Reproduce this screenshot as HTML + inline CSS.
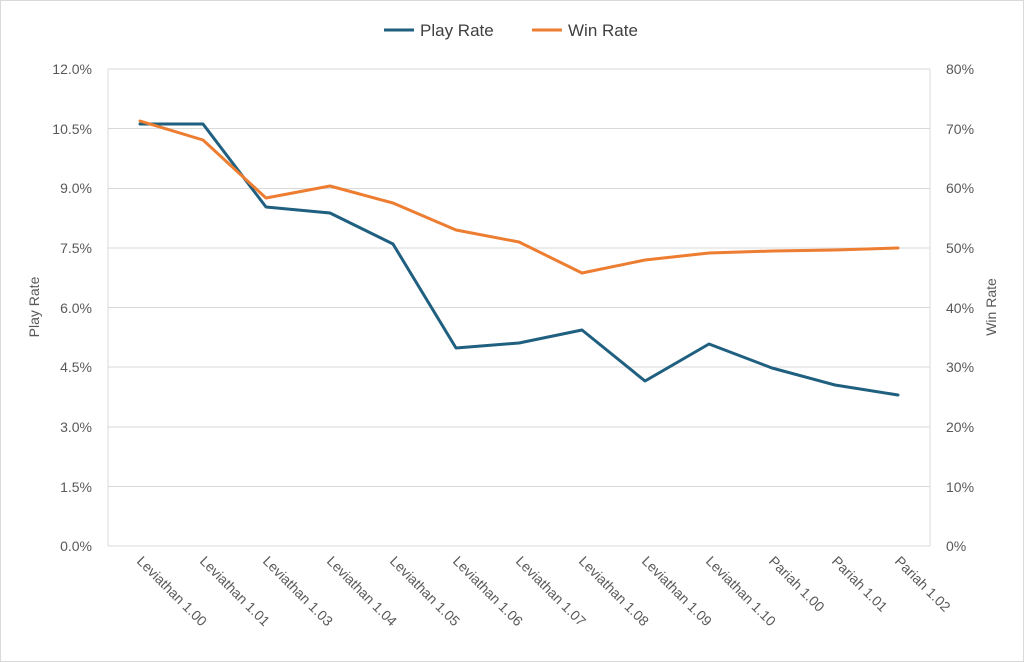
<!DOCTYPE html>
<html><head><meta charset="utf-8"><style>
html,body{margin:0;padding:0;background:#fff}
svg{display:block;font-family:"Liberation Sans",sans-serif}
</style></head><body>
<svg width="1024" height="662" viewBox="0 0 1024 662">
<rect x="0.5" y="0.5" width="1023" height="661" fill="#fff" stroke="#d9d9d9"/>
<g stroke="#d9d9d9" stroke-width="1">
<line x1="108" y1="69" x2="930" y2="69"/>
<line x1="108" y1="128.5" x2="930" y2="128.5"/>
<line x1="108" y1="188.5" x2="930" y2="188.5"/>
<line x1="108" y1="248" x2="930" y2="248"/>
<line x1="108" y1="307.5" x2="930" y2="307.5"/>
<line x1="108" y1="367" x2="930" y2="367"/>
<line x1="108" y1="427" x2="930" y2="427"/>
<line x1="108" y1="486.5" x2="930" y2="486.5"/>
<line x1="108" y1="546" x2="930" y2="546"/>
<line x1="108" y1="69" x2="108" y2="546"/>
<line x1="930" y1="69" x2="930" y2="546"/>
</g>
<g font-size="14" fill="#595959" text-anchor="end">
<text x="92" y="74">12.0%</text><text x="92" y="134">10.5%</text><text x="92" y="193">9.0%</text><text x="92" y="253">7.5%</text><text x="92" y="313">6.0%</text><text x="92" y="372">4.5%</text><text x="92" y="432">3.0%</text><text x="92" y="492">1.5%</text><text x="92" y="551">0.0%</text>
</g>
<g font-size="14" fill="#595959" text-anchor="start">
<text x="946" y="74">80%</text><text x="946" y="134">70%</text><text x="946" y="193">60%</text><text x="946" y="253">50%</text><text x="946" y="313">40%</text><text x="946" y="372">30%</text><text x="946" y="432">20%</text><text x="946" y="492">10%</text><text x="946" y="551">0%</text>
</g>
<text transform="translate(39,307) rotate(-90)" font-size="14" fill="#595959" text-anchor="middle">Play Rate</text>
<text transform="translate(996,307) rotate(-90)" font-size="14" fill="#595959" text-anchor="middle">Win Rate</text>
<g font-size="14" fill="#595959">
<text transform="translate(136,562) rotate(45)">Leviathan 1.00</text>
<text transform="translate(199,562) rotate(45)">Leviathan 1.01</text>
<text transform="translate(262,562) rotate(45)">Leviathan 1.03</text>
<text transform="translate(326,562) rotate(45)">Leviathan 1.04</text>
<text transform="translate(389,562) rotate(45)">Leviathan 1.05</text>
<text transform="translate(452,562) rotate(45)">Leviathan 1.06</text>
<text transform="translate(515,562) rotate(45)">Leviathan 1.07</text>
<text transform="translate(578,562) rotate(45)">Leviathan 1.08</text>
<text transform="translate(641,562) rotate(45)">Leviathan 1.09</text>
<text transform="translate(705,562) rotate(45)">Leviathan 1.10</text>
<text transform="translate(768,562) rotate(45)">Pariah 1.00</text>
<text transform="translate(831,562) rotate(45)">Pariah 1.01</text>
<text transform="translate(894,562) rotate(45)">Pariah 1.02</text>
</g>
<polyline fill="none" stroke="#1f5f7f" stroke-width="3" stroke-linejoin="round" stroke-linecap="round"
points="140,124 203,124 266,207 330,213 393,244 456,348 519,343 582,330 645,381 709,344 772,368 835,385 898,395"/>
<polyline fill="none" stroke="#ed7d31" stroke-width="3" stroke-linejoin="round" stroke-linecap="round"
points="140,121 203,140 266,198 330,186 393,203 456,230 519,242 582,273 645,260 709,253 772,251 835,250 898,248"/>
<line x1="384" y1="30" x2="414" y2="30" stroke="#1f5f7f" stroke-width="3"/>
<text x="420" y="36" font-size="17" fill="#404040">Play Rate</text>
<line x1="532" y1="30" x2="562" y2="30" stroke="#ed7d31" stroke-width="3"/>
<text x="568" y="36" font-size="17" fill="#404040">Win Rate</text>
</svg>
</body></html>
